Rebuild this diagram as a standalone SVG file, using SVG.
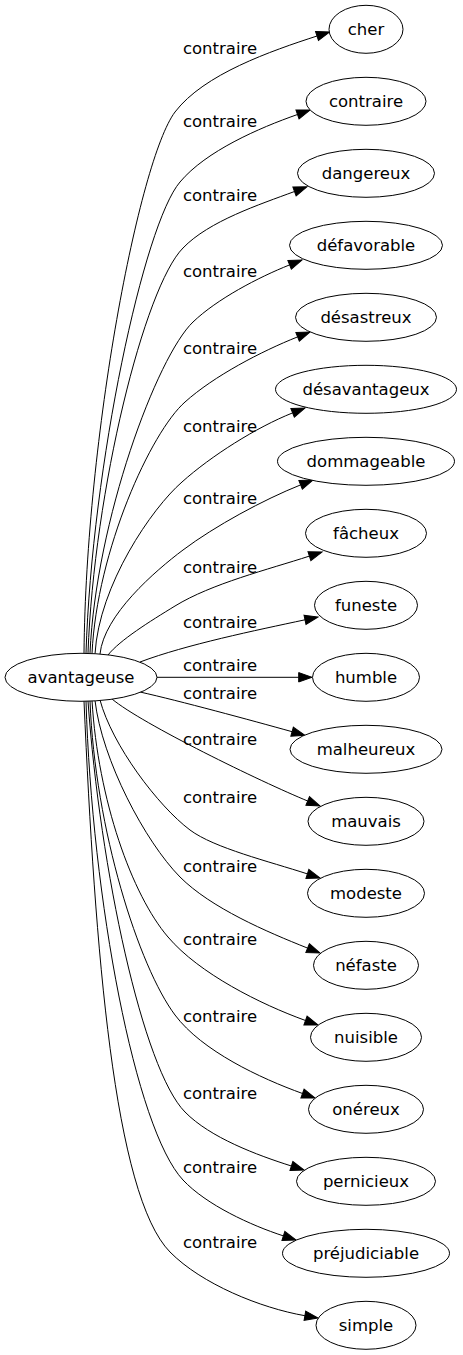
<svg xmlns="http://www.w3.org/2000/svg" width="463" height="1355" viewBox="0 0 463 1355">
<style>
.n ellipse{fill:#fff;stroke:#000;stroke-width:1}
text{font-family:"DejaVu Sans",sans-serif;font-size:16.5px;fill:#000;text-anchor:middle}
.e path{fill:none;stroke:#000;stroke-width:1;marker-end:url(#ah)}
</style>
<defs>
<marker id="ah" markerWidth="14" markerHeight="10" refX="0" refY="4.7" orient="auto" markerUnits="userSpaceOnUse" overflow="visible"><path d="M0,0 L13.3,4.7 L0,9.4 Z" fill="#000" stroke="#000" stroke-width="1"/></marker>
</defs>
<rect width="463" height="1355" fill="#fff"/>
<g id="edges" class="e">
<path d="M84,653 C86,437 139,160 175,112 C204,74 271,51 317,36"/>
<path d="M86,653 C92,465 144,224 180,182 C206,151 259,128 297.5,114.5"/>
<path d="M88,653 C94,490 144.5,287 183,248 C209,221 259.5,204.5 294.5,191.5"/>
<path d="M90,653 C96,520 157,356.5 193,322 C217,299 258.4,277.3 289.6,264.9"/>
<path d="M92,653.5 C97,550 151,432 185,402 C214,376 261.3,351.3 297.6,336.9"/>
<path d="M95,654 C99,585 152,508 182,482 C211,456 256.3,427.3 292.6,412.9"/>
<path d="M100,654 C104,615 155,571 183,550 C215,526 263.4,499.7 300.6,484.9"/>
<path d="M108,655 C120,640 149.5,621.6 175,606 C211.5,583.6 268.5,569.4 309.4,556.1"/>
<path d="M140,662 C186.5,644.5 256,630.3 305,619.8"/>
<path d="M157,677.3 L298.7,677.3"/>
<path d="M140,692 C180,701 250,720 292.1,731.7"/>
<path d="M112,699 C142,724 261.4,782 307.7,801"/>
<path d="M100,700 C112,745 158,806 190,830 C214,848 269.4,861.5 307.4,873.9"/>
<path d="M95,700.5 C102,760 145,841.5 180,877 C211,908 266.7,931.8 307.6,948.1"/>
<path d="M92,700.5 C98,800 132,895 168,937 C199,973.5 260.4,1004.2 305.5,1020.5"/>
<path d="M90,701 C95,830 139,967 175,1015 C202,1051 260.2,1078.2 302.5,1093.5"/>
<path d="M88,701 C100,870 143,1069.4 185,1112 C210,1137.6 257.2,1155.2 291.4,1166"/>
<path d="M86,701 C92,900 135.4,1129 183,1180 C206.5,1205 250.6,1225.2 283.4,1235.9"/>
<path d="M84,701 C95,950 114,1195 170,1252 C201.5,1284 260.6,1308 304.9,1315.7"/>
</g>
<g id="edge-labels">
<text x="220" y="53.5">contraire</text>
<text x="220" y="126.5">contraire</text>
<text x="220" y="200.5">contraire</text>
<text x="220" y="276.5">contraire</text>
<text x="220" y="353.5">contraire</text>
<text x="220" y="431.5">contraire</text>
<text x="220" y="503.5">contraire</text>
<text x="220" y="572.5">contraire</text>
<text x="220" y="627.5">contraire</text>
<text x="220" y="670.5">contraire</text>
<text x="220" y="698.5">contraire</text>
<text x="220" y="744.5">contraire</text>
<text x="220" y="802.5">contraire</text>
<text x="220" y="871.5">contraire</text>
<text x="220" y="944.5">contraire</text>
<text x="220" y="1021.5">contraire</text>
<text x="220" y="1098.5">contraire</text>
<text x="220" y="1172.5">contraire</text>
<text x="220" y="1247.5">contraire</text>
</g>
<g id="avantageuse" class="n"><ellipse cx="81" cy="677.3" rx="76" ry="24"/><text x="81" y="682.8">avantageuse</text></g>
<g id="cher" class="n"><ellipse cx="366" cy="29.3" rx="37" ry="24"/><text x="366" y="34.8">cher</text></g>
<g id="contraire" class="n"><ellipse cx="366" cy="101.3" rx="60" ry="24"/><text x="366" y="106.8">contraire</text></g>
<g id="dangereux" class="n"><ellipse cx="366" cy="173.3" rx="68.5" ry="24"/><text x="366" y="178.8">dangereux</text></g>
<g id="defavorable" class="n"><ellipse cx="366" cy="245.3" rx="76.5" ry="24"/><text x="366" y="250.8">défavorable</text></g>
<g id="desastreux" class="n"><ellipse cx="366" cy="317.3" rx="70.5" ry="24"/><text x="366" y="322.8">désastreux</text></g>
<g id="desavantageux" class="n"><ellipse cx="366" cy="389.3" rx="90.5" ry="24"/><text x="366" y="394.8">désavantageux</text></g>
<g id="dommageable" class="n"><ellipse cx="366" cy="461.3" rx="88.5" ry="24"/><text x="366" y="466.8">dommageable</text></g>
<g id="facheux" class="n"><ellipse cx="366" cy="533.3" rx="60.5" ry="24"/><text x="366" y="538.8">fâcheux</text></g>
<g id="funeste" class="n"><ellipse cx="366" cy="605.3" rx="51.5" ry="24"/><text x="366" y="610.8">funeste</text></g>
<g id="humble" class="n"><ellipse cx="366" cy="677.3" rx="53.5" ry="24"/><text x="366" y="682.8">humble</text></g>
<g id="malheureux" class="n"><ellipse cx="366" cy="749.3" rx="76" ry="24"/><text x="366" y="754.8">malheureux</text></g>
<g id="mauvais" class="n"><ellipse cx="366" cy="821.3" rx="58" ry="24"/><text x="366" y="826.8">mauvais</text></g>
<g id="modeste" class="n"><ellipse cx="366" cy="893.3" rx="58.5" ry="24"/><text x="366" y="898.8">modeste</text></g>
<g id="nefaste" class="n"><ellipse cx="366" cy="965.3" rx="52.5" ry="24"/><text x="366" y="970.8">néfaste</text></g>
<g id="nuisible" class="n"><ellipse cx="366" cy="1037.3" rx="55.5" ry="24"/><text x="366" y="1042.8">nuisible</text></g>
<g id="onereux" class="n"><ellipse cx="366" cy="1109.3" rx="57.5" ry="24"/><text x="366" y="1114.8">onéreux</text></g>
<g id="pernicieux" class="n"><ellipse cx="366" cy="1181.3" rx="69.5" ry="24"/><text x="366" y="1186.8">pernicieux</text></g>
<g id="prejudiciable" class="n"><ellipse cx="366" cy="1253.3" rx="83.5" ry="24"/><text x="366" y="1258.8">préjudiciable</text></g>
<g id="simple" class="n"><ellipse cx="366" cy="1325.3" rx="50" ry="24"/><text x="366" y="1330.8">simple</text></g>
</svg>
